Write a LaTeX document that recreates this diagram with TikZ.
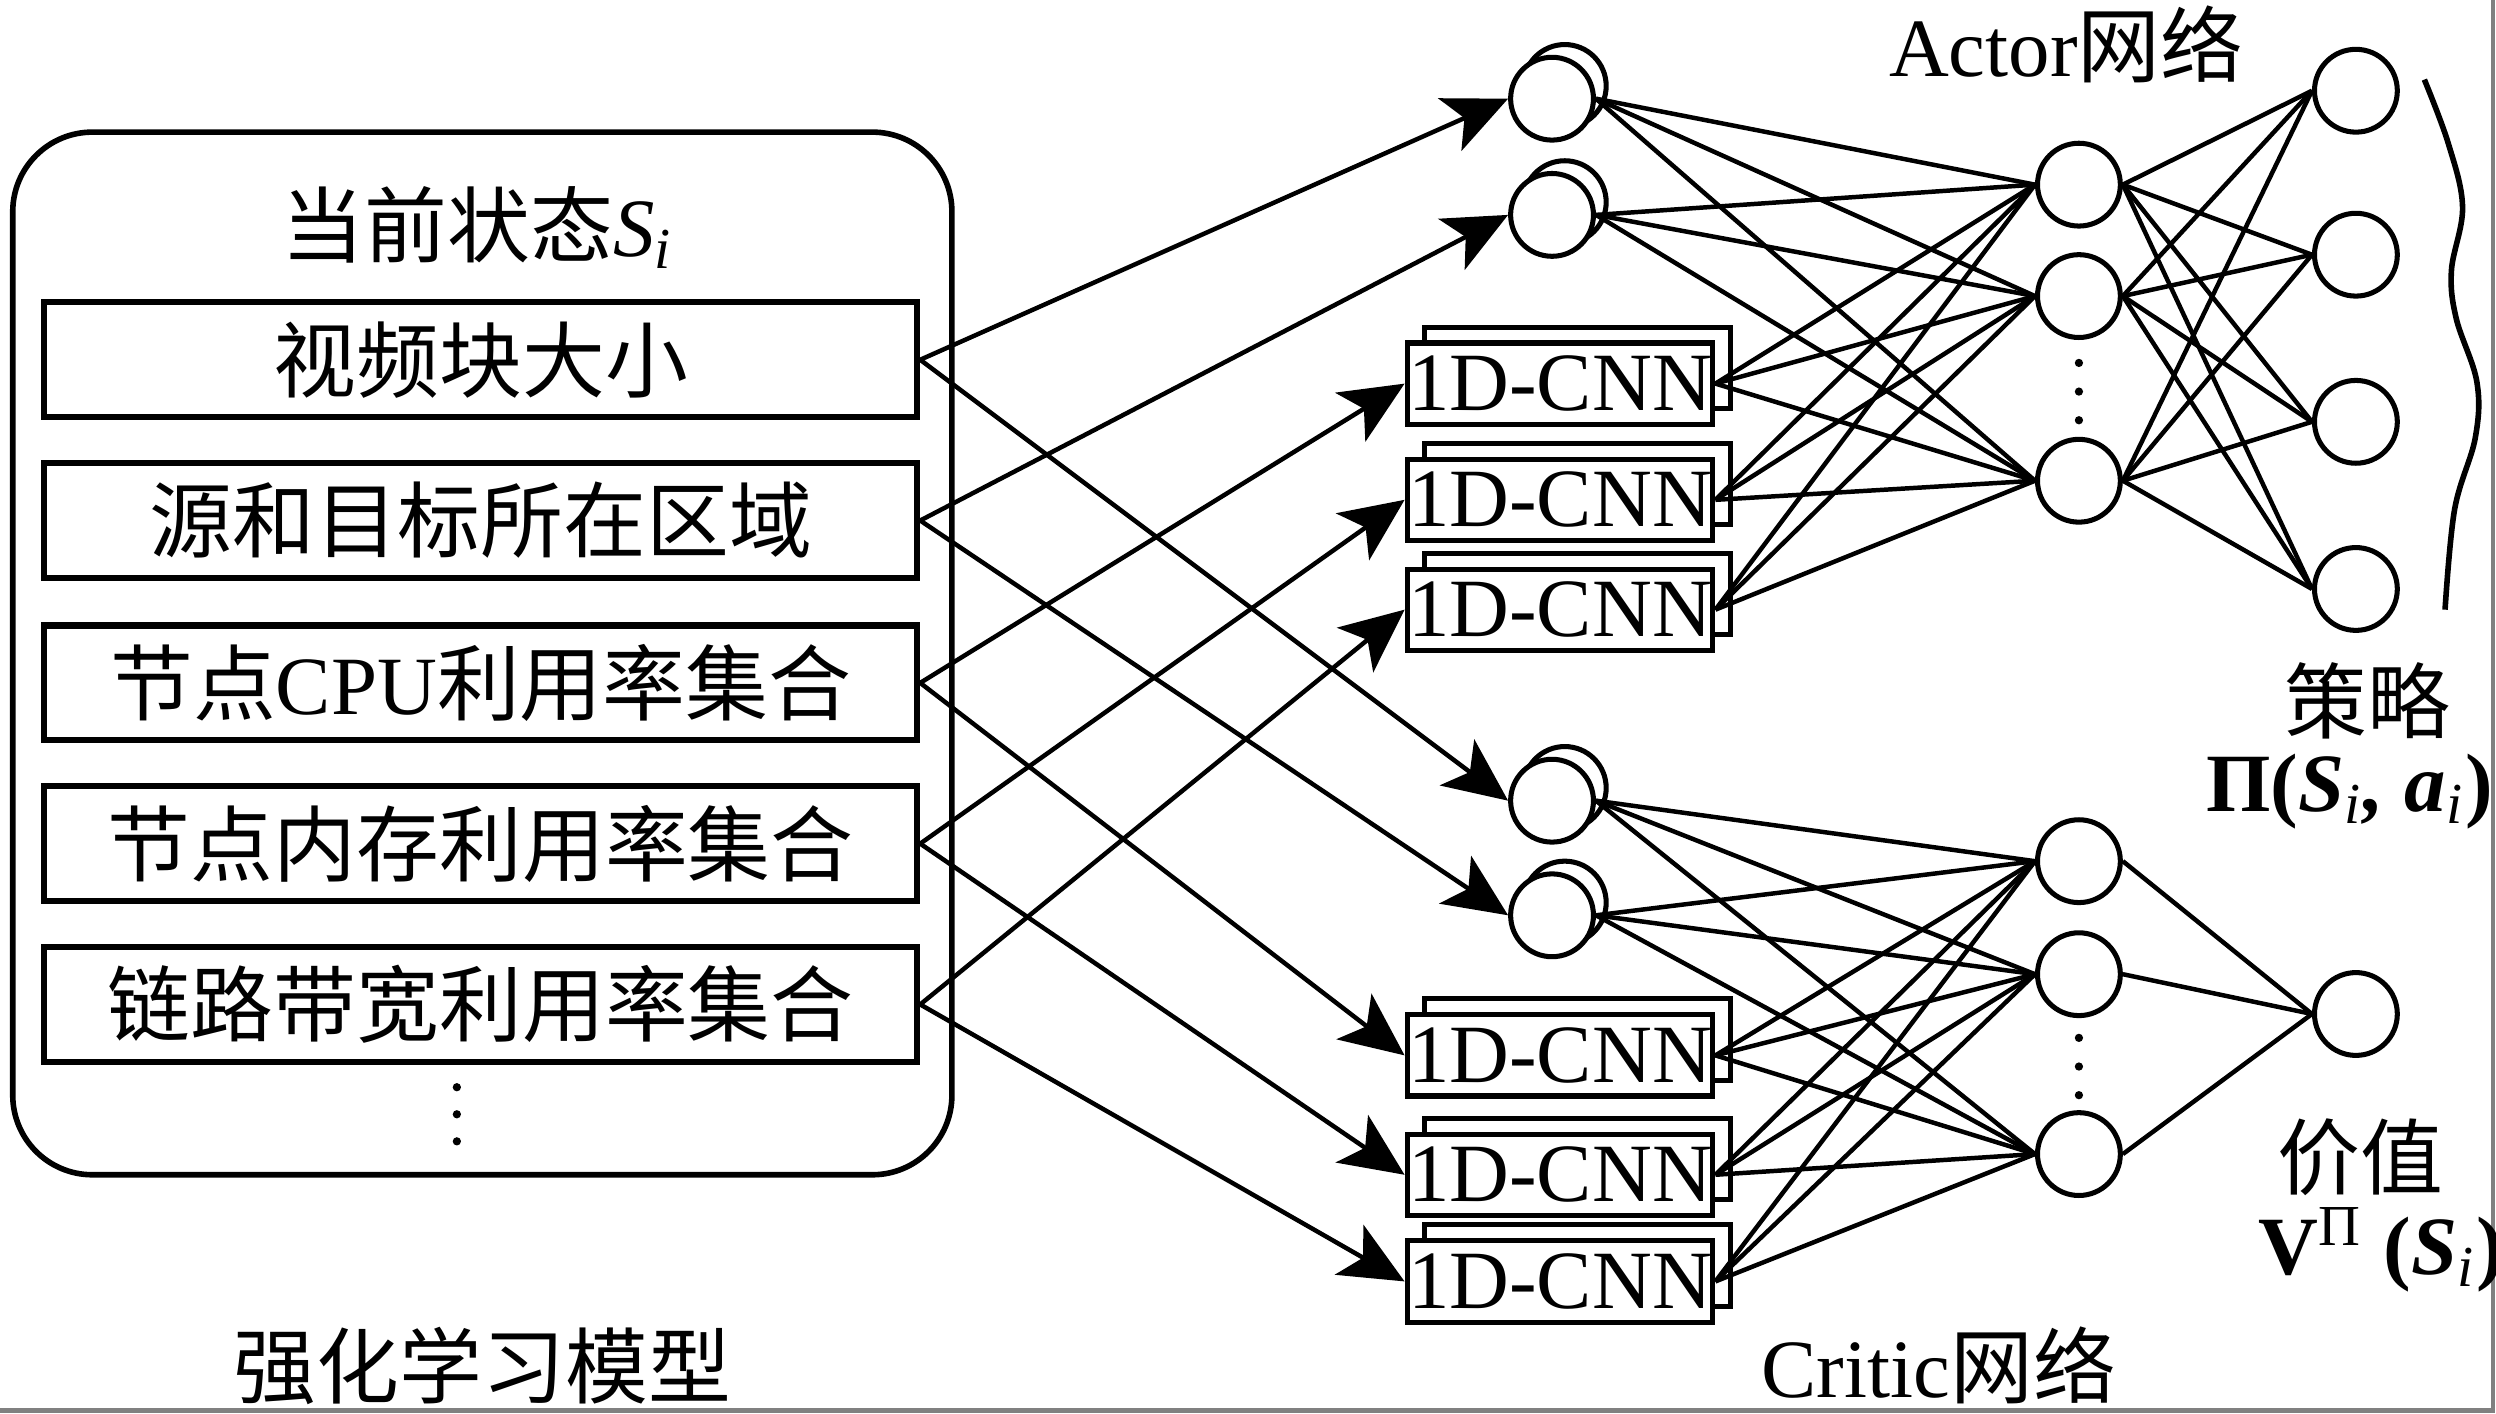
\documentclass[tikz,border=0pt]{standalone}
\usepackage{fontspec}
\setmainfont{Liberation Serif}
\newfontfamily\cjk{Noto Sans CJK SC}
\usetikzlibrary{arrows.meta}
\begin{document}
\begin{tikzpicture}[x=0.01cm,y=-0.01cm,
  every node/.style={font=\fontsize{14.8}{17}\selectfont},
  neuron/.style={circle,draw,line width=0.9pt,fill=white,minimum size=0.52cm,inner sep=0pt},
  cnnbox/.style={rectangle,draw,line width=0.9pt,fill=white,minimum width=1.92cm,minimum height=0.51cm,inner sep=0pt},
  statebox/.style={rectangle,draw,line width=1.1pt,fill=white,minimum width=5.48cm,minimum height=0.72cm,inner sep=0pt},
  conn/.style={line width=0.8pt},
  arr/.style={line width=0.8pt,-{Stealth[length=4mm,width=3.6mm,inset=1mm]}},
  lbl/.style={inner sep=0pt}
]
\useasboundingbox (0,0) rectangle (1568,888);
\fill[white] (0,0) rectangle (1568,888);
\draw[gray,line width=0.8pt] (1566,0) -- (1566,886) -- (0,886);

% left state panel
\draw[line width=1pt,rounded corners=0.5cm] (8,83) rectangle (598,738);
\node[lbl] (title) at (300,143) {{\cjk 当前状态}\textit{S}\textsubscript{\textit{i}}};
\node[statebox] (s1) at (302,226) {\cjk 视频块大小};
\node[statebox] (s2) at (302,327) {\cjk 源和目标所在区域};
\node[statebox] (s3) at (302,429) {{\cjk 节点}CPU{\cjk 利用率集合}};
\node[statebox] (s4) at (302,530) {\cjk 节点内存利用率集合};
\node[statebox] (s5) at (302,631) {\cjk 链路带宽利用率集合};
\foreach \yy in {683,700,717} \fill (287,\yy) circle (2.6);
\node[lbl] (rlm) at (303,858) {\cjk 强化学习模型};

% ---------- Actor ----------
\node[lbl] (actt) at (1298,28) {Actor{\cjk 网络}};
\node[neuron] (a1b) at (983,54) {};
\node[neuron] (a1) at (975,62) {};
\node[neuron] (a2b) at (983,127) {};
\node[neuron] (a2) at (975,135) {};
\node[cnnbox] (ac1b) at (991,231) {};
\node[cnnbox] (ac1) at (980,241) {1D-CNN};
\node[cnnbox] (ac2b) at (991,304) {};
\node[cnnbox] (ac2) at (980,314) {1D-CNN};
\node[cnnbox] (ac3b) at (991,373) {};
\node[cnnbox] (ac3) at (980,383) {1D-CNN};
\node[neuron] (ah1) at (1306,116) {};
\node[neuron] (ah2) at (1306,186) {};
\node[neuron] (ah3) at (1306,302) {};
\foreach \yy in {228,246,264} \fill (1306,\yy) circle (2.6);
\node[neuron] (ao1) at (1480,57) {};
\node[neuron] (ao2) at (1480,160) {};
\node[neuron] (ao3) at (1480,265) {};
\node[neuron] (ao4) at (1480,370) {};
\foreach \i in {a1,a2,ac1,ac2,ac3}
  \foreach \h in {ah1,ah2,ah3}
    \draw[conn] (\i.east) -- (\h.west);
\foreach \h in {ah1,ah2,ah3}
  \foreach \o in {ao1,ao2,ao3,ao4}
    \draw[conn] (\h.east) -- (\o.west);
\draw[line width=1pt] plot[smooth,tension=0.6] coordinates {(1523,50) (1538,90) (1547,130) (1540,170) (1543,200) (1556,240) (1555,275) (1542,320) (1536,383)};
\node[lbl] (celue) at (1487,440) {\cjk 策略};
\node[lbl] (pi) at (1476,497) {\textbf{Π(\textit{S}}\textsubscript{\textit{i}}\textbf{\textit{,} \textit{a}}\textsubscript{\textit{i}}\textbf{)}};

% ---------- Critic ----------
\node[neuron] (c1b) at (983,495) {};
\node[neuron] (c1) at (975,503) {};
\node[neuron] (c2b) at (983,567) {};
\node[neuron] (c2) at (975,575) {};
\node[cnnbox] (cc1b) at (991,653) {};
\node[cnnbox] (cc1) at (980,663) {1D-CNN};
\node[cnnbox] (cc2b) at (991,728) {};
\node[cnnbox] (cc2) at (980,738) {1D-CNN};
\node[cnnbox] (cc3b) at (991,795) {};
\node[cnnbox] (cc3) at (980,805) {1D-CNN};
\node[neuron] (ch1) at (1306,541) {};
\node[neuron] (ch2) at (1306,612) {};
\node[neuron] (ch3) at (1306,725) {};
\foreach \yy in {652,670,688} \fill (1306,\yy) circle (2.6);
\node[neuron] (co) at (1480,637) {};
\foreach \i in {c1,c2,cc1,cc2,cc3}
  \foreach \h in {ch1,ch2,ch3}
    \draw[conn] (\i.east) -- (\h.west);
\foreach \h in {ch1,ch2,ch3}
  \draw[conn] (\h.east) -- (co.west);
\node[lbl] (jiazhi) at (1483,727) {\cjk 价值};
\node[lbl] (vpi) at (1496,785) {\textbf{V}\textsuperscript{Π} \textbf{(\textit{S}}\textsubscript{\textit{i}}\textbf{)}};
\node[lbl] (critt) at (1218,858) {Critic{\cjk 网络}};

% ---------- input arrows ----------
\draw[arr] (s1.east) -- (a1.west);
\draw[arr] (s1.east) -- (c1.west);
\draw[arr] (s2.east) -- (a2.west);
\draw[arr] (s2.east) -- (c2.west);
\draw[arr] (s3.east) -- (ac1.west);
\draw[arr] (s3.east) -- (cc1.west);
\draw[arr] (s4.east) -- (ac2.west);
\draw[arr] (s4.east) -- (cc2.west);
\draw[arr] (s5.east) -- (ac3.west);
\draw[arr] (s5.east) -- (cc3.west);
\end{tikzpicture}
\end{document}
